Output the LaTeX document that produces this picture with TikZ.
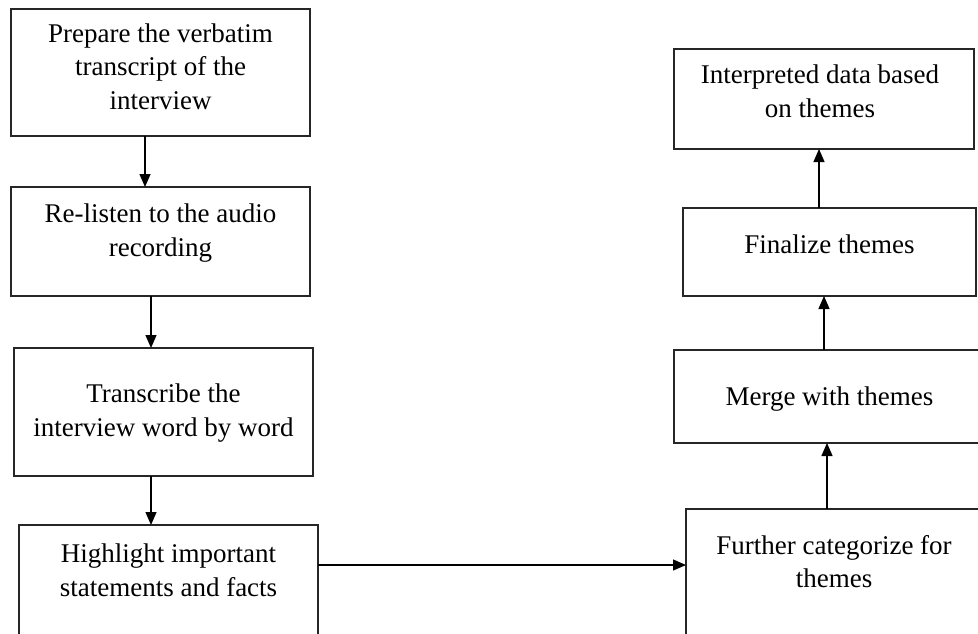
\documentclass[tikz,border=0pt]{standalone}
\usepackage{fontspec}
\setmainfont{Liberation Serif}
\usetikzlibrary{arrows.meta}
\tikzset{every picture/.style={line width=1.3pt}}
\tikzset{
  box/.style={draw=black!85, rectangle, inner sep=0pt, outer sep=0pt,
              anchor=north west},
  txt/.style={align=center, inner sep=0pt, anchor=north,
              font=\fontsize{27}{33.5}\selectfont},
  arr/.style={-{Triangle[length=13pt,width=11pt]}},
}

\begin{document}
\begin{tikzpicture}[x=1pt,y=-1pt]
  \clip (0,0) rectangle (978,634);
  % left column | going down
  \node[box, minimum width=299pt, minimum height=127pt] (prep) at (11,9) {};
  \node[txt] at ([yshift=-14pt]prep.north) {Prepare the verbatim\\transcript of the\\interview};
  \node[box, minimum width=299pt, minimum height=109pt] (relisten) at (11,187) {};
  \node[txt] at ([yshift=-16.5pt]relisten.north) {Re-listen to the audio\\recording};
  \node[box, minimum width=299pt, minimum height=128pt] (transcribe) at (14,348) {};
  \node[txt] at ([yshift=-35.5pt]transcribe.north) {Transcribe the\\interview word by word};
  \node[box, minimum width=299pt, minimum height=160pt] (highlight) at (19,525) {};
  \node[txt] at ([yshift=-18.5pt]highlight.north) {Highlight important\\statements and facts};
  % right column | going up
  \node[box, minimum width=300pt, minimum height=100pt] (interp) at (674,49) {};
  \node[txt] at ([xshift=-4pt,yshift=-15.5pt]interp.north) {Interpreted data based\\on themes};
  \node[box, minimum width=293pt, minimum height=88pt] (finalize) at (683,208) {};
  \node[txt] at ([yshift=-26.5pt]finalize.north) {Finalize themes};
  \node[box, minimum width=311pt, minimum height=93pt] (merge) at (674,350) {};
  \node[txt] at ([yshift=-36.5pt]merge.north) {Merge with themes};
  \node[box, minimum width=296pt, minimum height=160pt] (further) at (686,509) {};
  \node[txt] at ([yshift=-25.5pt]further.north) {Further categorize for\\themes};
  % connect boxes
  \draw[arr] ([xshift=-15.5pt]prep.south) -- ([xshift=-15.5pt]prep.south |- relisten.north);
  \draw[arr] ([xshift=-9.5pt]relisten.south) -- ([xshift=-9.5pt]relisten.south |- transcribe.north);
  \draw[arr] ([xshift=-12.5pt]transcribe.south) -- ([xshift=-12.5pt]transcribe.south |- highlight.north);
  \draw[arr] ([yshift=-40pt]highlight.north east) -- ([yshift=-40pt]highlight.north east -| further.west);
  \draw[arr] ([xshift=-7pt]further.north) -- ([xshift=-7pt]further.north |- merge.south);
  \draw[arr] ([xshift=-5.5pt]merge.north) -- ([xshift=-5.5pt]merge.north |- finalize.south);
  \draw[arr] ([xshift=-10.5pt]finalize.north) -- ([xshift=-10.5pt]finalize.north |- interp.south);
\end{tikzpicture}
\end{document}
